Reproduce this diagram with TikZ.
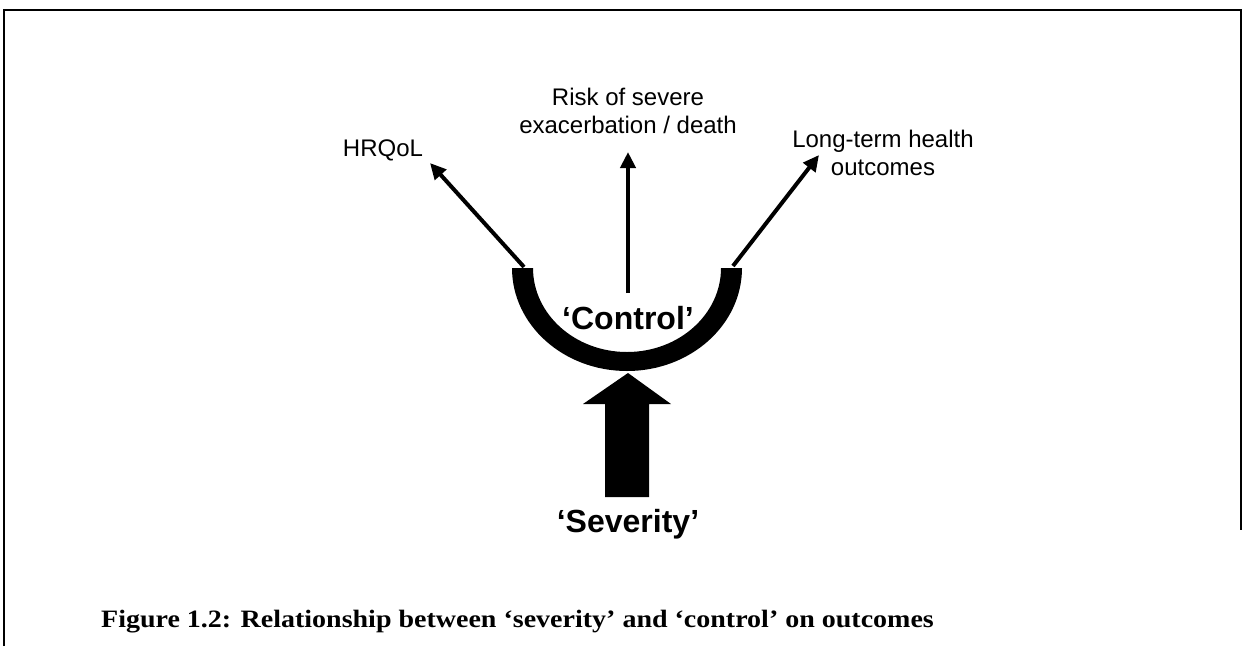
\documentclass[tikz,border=0pt]{standalone}
\usepackage{fontspec}
\usetikzlibrary{arrows.meta}
\newfontfamily\labfont{Liberation Sans}
\newfontfamily\capfont{Liberation Serif}
\begin{document}
\begin{tikzpicture}[x=1pt,y=-1pt,
  frame/.style={line width=2pt,black},
  outarrow/.style={line width=4pt,-{Triangle[length=16pt,width=15pt]}},
  small/.style={font=\labfont\fontsize{24}{27.5}\selectfont,inner sep=0pt,align=center},
  big/.style={font=\labfont\bfseries\fontsize{32}{36}\selectfont,inner sep=0pt},
  captext/.style={font=\capfont\bfseries\fontsize{25}{29}\selectfont,inner sep=0pt,anchor=base west}]
\useasboundingbox (0,0) rectangle (1244,646);
% frame
\draw[frame] (4,646) -- (4,10) -- (1241,10) -- (1241,530);
% U shape
\fill (512,268) arc[start angle=180,end angle=360,x radius=115pt,y radius=103pt]
  -- (721,268) arc[start angle=0,end angle=-180,x radius=94pt,y radius=84pt] -- cycle;
% labels (base anchor = baseline of last line)
\node[small,anchor=base] (hrqol) at (383,156) {HRQoL};
\node[small,anchor=base] (risk) at (628,133) {Risk of severe\\exacerbation / death};
\node[small,anchor=base] (lt) at (883,175) {Long-term health\\outcomes};
\node[big,anchor=base] (control) at (628,329) {‘Control’};
\node[big,anchor=base] (severity) at (628,532) {‘Severity’};
\node[captext] (caption) at (101,627) {\scalebox{1.12}[1]{Figure 1.2: Relationship between ‘severity’ and ‘control’ on outcomes}};
% connector ends
\coordinate (ul) at (524,267);
\coordinate (um) at (628,293);
\coordinate (ur) at (733,266);
\coordinate (tl) at (430,163);
\coordinate (tm) at (628,152);
\coordinate (tr) at (819,155);
\draw[outarrow] (ul) -- (tl);
\draw[outarrow] (um) -- (tm);
\draw[outarrow] (ur) -- (tr);
% big arrow
\coordinate (btip) at (628,373);
\fill (btip) -- (671,404) -- (649,404) -- (649,497) -- (605,497) -- (605,404) -- (583,404) -- cycle;
\end{tikzpicture}
\end{document}
